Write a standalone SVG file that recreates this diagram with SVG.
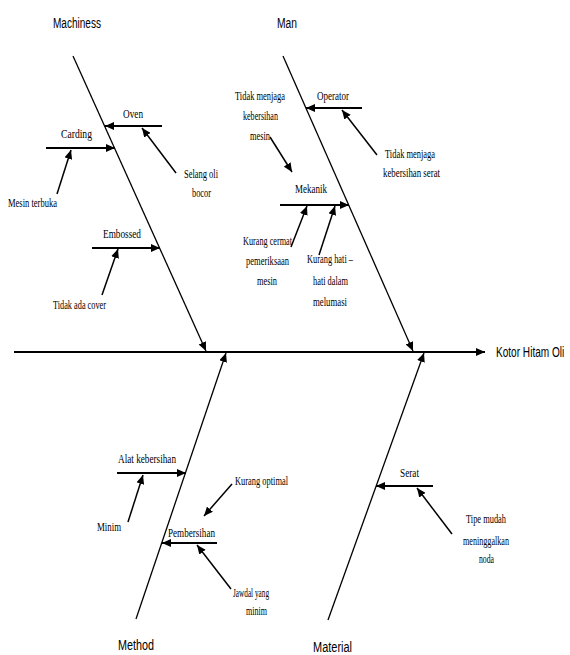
<svg xmlns="http://www.w3.org/2000/svg" width="570" height="655" viewBox="0 0 570 655">
<style>
.bg{fill:#ffffff}
.spine{stroke:#000;stroke-width:2;fill:none}
.bone{stroke:#000;stroke-width:1.3;fill:none}
.sub{stroke:#000;stroke-width:2.2;fill:none}
.cause{stroke:#000;stroke-width:1.5;fill:none}
.lbl{font-family:"Liberation Sans",Arial,sans-serif;font-size:14px;fill:#000}
.t{font-family:"Liberation Serif","Times New Roman",serif;font-size:12.5px;fill:#000}
</style>
<defs>
<marker id="ah" markerUnits="userSpaceOnUse" markerWidth="9" markerHeight="8" refX="9" refY="4" orient="auto">
<path d="M0,0 L9,4 L0,8 z" fill="#000"/>
</marker>
</defs>
<rect class="bg" x="0" y="0" width="570" height="655"/>
<g id="connectors">
<line class="spine" x1="14" y1="352" x2="485" y2="352" marker-end="url(#ah)"/>
<line class="bone" x1="73" y1="56" x2="206" y2="351" marker-end="url(#ah)"/>
<line class="bone" x1="283" y1="56" x2="413" y2="351" marker-end="url(#ah)"/>
<line class="bone" x1="136" y1="619" x2="226" y2="353" marker-end="url(#ah)"/>
<line class="bone" x1="328" y1="620" x2="424" y2="353" marker-end="url(#ah)"/>
<line class="sub" x1="162" y1="126" x2="105" y2="126" marker-end="url(#ah)"/>
<line class="sub" x1="46" y1="148" x2="115" y2="148" marker-end="url(#ah)"/>
<line class="sub" x1="92" y1="248" x2="160" y2="248" marker-end="url(#ah)"/>
<line class="sub" x1="362" y1="108" x2="306" y2="108" marker-end="url(#ah)"/>
<line class="sub" x1="280" y1="205" x2="349" y2="205" marker-end="url(#ah)"/>
<line class="sub" x1="117" y1="473" x2="186" y2="473" marker-end="url(#ah)"/>
<line class="sub" x1="217" y1="543" x2="162" y2="543" marker-end="url(#ah)"/>
<line class="sub" x1="433" y1="486" x2="376" y2="486" marker-end="url(#ah)"/>
<line class="cause" x1="176" y1="173" x2="142" y2="128" marker-end="url(#ah)"/>
<line class="cause" x1="57" y1="194" x2="71" y2="150" marker-end="url(#ah)"/>
<line class="cause" x1="102" y1="295" x2="118" y2="249" marker-end="url(#ah)"/>
<line class="cause" x1="377" y1="155" x2="342" y2="110" marker-end="url(#ah)"/>
<line class="cause" x1="270" y1="137" x2="292" y2="172" marker-end="url(#ah)"/>
<line class="cause" x1="291" y1="247" x2="307" y2="206" marker-end="url(#ah)"/>
<line class="cause" x1="319" y1="255" x2="335" y2="206" marker-end="url(#ah)"/>
<line class="cause" x1="128" y1="522" x2="143" y2="475" marker-end="url(#ah)"/>
<line class="cause" x1="232" y1="484" x2="204" y2="516" marker-end="url(#ah)"/>
<line class="cause" x1="231" y1="589" x2="197" y2="545" marker-end="url(#ah)"/>
<line class="cause" x1="452" y1="534" x2="417" y2="488" marker-end="url(#ah)"/>
</g>
<g id="effect" transform="translate(496,357) scale(0.72,1)"><text class="lbl" x="0" y="0">Kotor Hitam Oli</text></g>
<g id="machiness"><text class="lbl" x="53" y="28" textLength="48" lengthAdjust="spacingAndGlyphs">Machiness</text></g>
<g id="man"><text class="lbl" x="277" y="28" textLength="20" lengthAdjust="spacingAndGlyphs">Man</text></g>
<g id="method"><text class="lbl" x="118" y="650" textLength="36" lengthAdjust="spacingAndGlyphs">Method</text></g>
<g id="material"><text class="lbl" x="313" y="652" textLength="39" lengthAdjust="spacingAndGlyphs">Material</text></g>
<g id="oven"><text class="t" x="123" y="118" textLength="20" lengthAdjust="spacingAndGlyphs">Oven</text></g>
<g id="selang"><text class="t" x="184" y="178" textLength="34" lengthAdjust="spacingAndGlyphs">Selang oli</text><text class="t" x="192" y="197" textLength="19" lengthAdjust="spacingAndGlyphs">bocor</text></g>
<g id="carding"><text class="t" x="61" y="138" textLength="31" lengthAdjust="spacingAndGlyphs">Carding</text></g>
<g id="mesin-terbuka"><text class="t" x="8" y="207" textLength="49" lengthAdjust="spacingAndGlyphs">Mesin terbuka</text></g>
<g id="embossed"><text class="t" x="103" y="238" textLength="38" lengthAdjust="spacingAndGlyphs">Embossed</text></g>
<g id="tidak-ada-cover"><text class="t" x="53" y="309" textLength="53" lengthAdjust="spacingAndGlyphs">Tidak ada cover</text></g>
<g id="operator"><text class="t" x="317" y="100" textLength="32" lengthAdjust="spacingAndGlyphs">Operator</text></g>
<g id="tidak-serat"><text class="t" x="385" y="158" textLength="50" lengthAdjust="spacingAndGlyphs">Tidak menjaga</text><text class="t" x="383" y="177" textLength="57" lengthAdjust="spacingAndGlyphs">kebersihan serat</text></g>
<g id="tidak-mesin"><text class="t" x="235" y="100" textLength="50" lengthAdjust="spacingAndGlyphs">Tidak menjaga</text><text class="t" x="243" y="120" textLength="35" lengthAdjust="spacingAndGlyphs">kebersihan</text><text class="t" x="250" y="140" textLength="20" lengthAdjust="spacingAndGlyphs">mesin</text></g>
<g id="mekanik"><text class="t" x="295" y="193" textLength="32" lengthAdjust="spacingAndGlyphs">Mekanik</text></g>
<g id="kurang-cermat"><text class="t" x="243" y="245" textLength="49" lengthAdjust="spacingAndGlyphs">Kurang cermat</text><text class="t" x="246" y="265" textLength="43" lengthAdjust="spacingAndGlyphs">pemeriksaan</text><text class="t" x="257" y="285" textLength="20" lengthAdjust="spacingAndGlyphs">mesin</text></g>
<g id="kurang-hati"><text class="t" x="307" y="263" textLength="46" lengthAdjust="spacingAndGlyphs">Kurang hati –</text><text class="t" x="313" y="285" textLength="35" lengthAdjust="spacingAndGlyphs">hati dalam</text><text class="t" x="313" y="306" textLength="34" lengthAdjust="spacingAndGlyphs">melumasi</text></g>
<g id="alat"><text class="t" x="118" y="463" textLength="58" lengthAdjust="spacingAndGlyphs">Alat kebersihan</text></g>
<g id="minim"><text class="t" x="97" y="531" textLength="24" lengthAdjust="spacingAndGlyphs">Minim</text></g>
<g id="kurang-optimal"><text class="t" x="235" y="485" textLength="53" lengthAdjust="spacingAndGlyphs">Kurang optimal</text></g>
<g id="pembersihan"><text class="t" x="168" y="537" textLength="47" lengthAdjust="spacingAndGlyphs">Pembersihan</text></g>
<g id="jawdal"><text class="t" x="233" y="597" textLength="36" lengthAdjust="spacingAndGlyphs">Jawdal yang</text><text class="t" x="246" y="615" textLength="21" lengthAdjust="spacingAndGlyphs">minim</text></g>
<g id="serat"><text class="t" x="400" y="477" textLength="19" lengthAdjust="spacingAndGlyphs">Serat</text></g>
<g id="tipe"><text class="t" x="466" y="523" textLength="40" lengthAdjust="spacingAndGlyphs">Tipe mudah</text><text class="t" x="463" y="545" textLength="46" lengthAdjust="spacingAndGlyphs">meninggalkan</text><text class="t" x="479" y="563" textLength="15" lengthAdjust="spacingAndGlyphs">noda</text></g>
</svg>
